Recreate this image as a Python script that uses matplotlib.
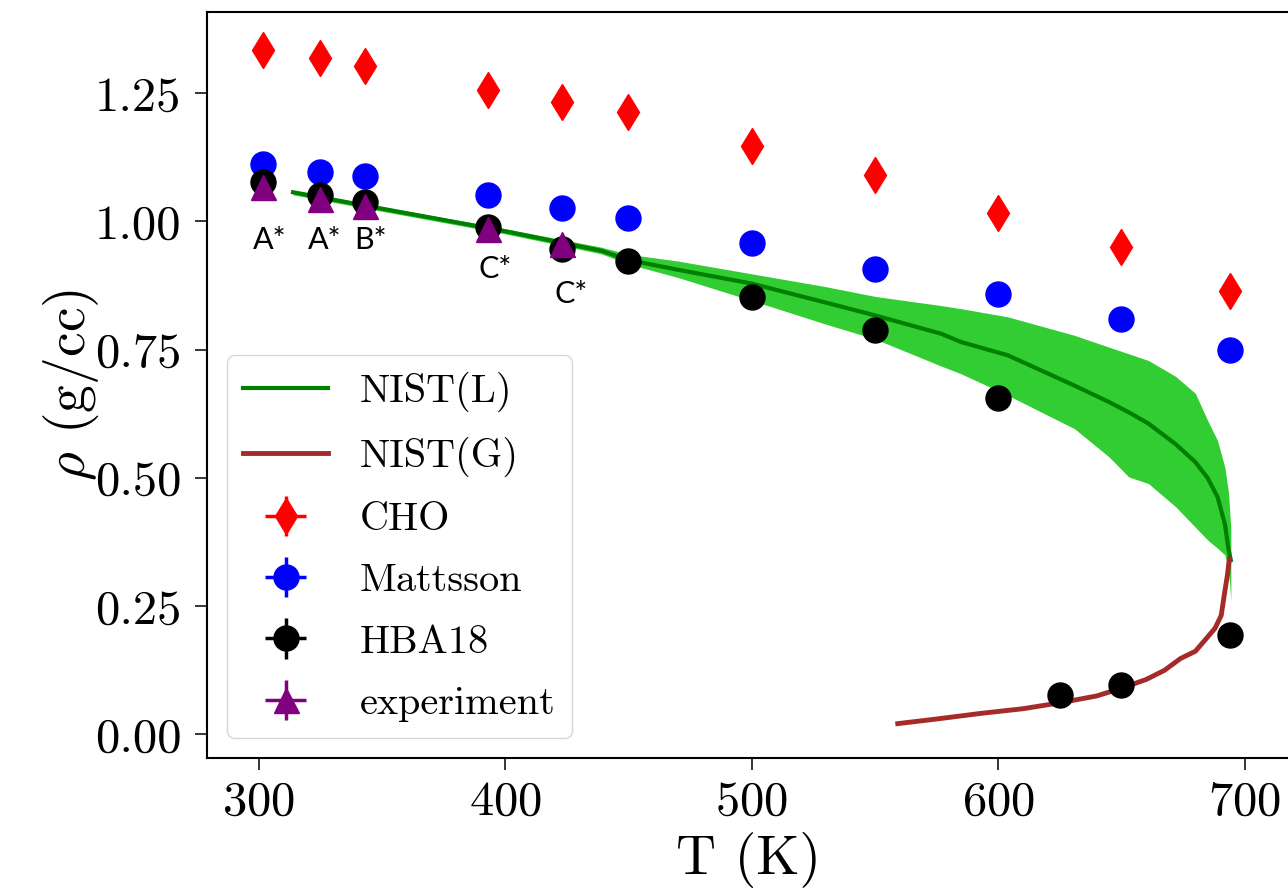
import matplotlib
matplotlib.use("Agg")
import matplotlib.pyplot as plt

plt.rcParams["font.family"] = "serif"
plt.rcParams["font.serif"] = ["cmr10"]
plt.rcParams["mathtext.fontset"] = "cm"
plt.rcParams["axes.formatter.use_mathtext"] = True

# NIST saturated liquid density with uncertainty band
nist_l_T = [314, 350, 400, 439, 450, 470, 500, 530, 550, 577, 585, 604, 631, 645,
            653, 661, 672, 680, 685, 689, 692, 693.5, 694.4]
nist_l_rho = [1.057, 1.025, 0.981, 0.943, 0.925, 0.906, 0.879, 0.842, 0.817, 0.781,
              0.765, 0.739, 0.680, 0.648, 0.628, 0.606, 0.566, 0.531, 0.500, 0.463,
              0.410, 0.360, 0.340]
nist_l_hi = [1.061, 1.029, 0.986, 0.950, 0.936, 0.923, 0.898, 0.873, 0.854, 0.836,
             0.830, 0.814, 0.778, 0.755, 0.742, 0.729, 0.698, 0.665, 0.612, 0.573,
             0.520, 0.470, 0.400]
nist_l_lo = [1.052, 1.020, 0.976, 0.937, 0.917, 0.891, 0.846, 0.800, 0.771, 0.718,
             0.703, 0.661, 0.596, 0.541, 0.502, 0.489, 0.444, 0.404, 0.379, 0.363,
             0.350, 0.320, 0.262]

# NIST saturated vapour density
nist_g_T = [559.3, 575, 593, 610, 625.6, 640, 650, 660, 667.5, 674, 680, 685, 688,
            690.5, 692, 693, 693.8]
nist_g_rho = [0.021, 0.030, 0.041, 0.050, 0.062, 0.075, 0.090, 0.107, 0.125, 0.148,
              0.162, 0.190, 0.207, 0.232, 0.280, 0.310, 0.342]

# Simulation results
cho_T = [302, 325, 343, 393, 423, 450, 500, 550, 600, 650, 694]
cho_rho = [1.335, 1.318, 1.304, 1.257, 1.232, 1.213, 1.148, 1.091, 1.017, 0.951, 0.864]
cho_xerr = [0, 0, 0, 0, 0, 0, 0, 0, 0, 0, 4]
cho_yerr = [0.006, 0.006, 0.006, 0.006, 0.006, 0.006, 0.008, 0.008, 0.010, 0.010, 0.012]

mat_T = [302, 325, 343, 393, 423, 450, 500, 550, 600, 650, 694]
mat_rho = [1.112, 1.096, 1.088, 1.052, 1.027, 1.007, 0.959, 0.908, 0.858, 0.809, 0.749]
mat_xerr = [0, 0, 0, 0, 0, 0, 0, 0, 0, 0, 4]
mat_yerr = [0.005, 0.005, 0.005, 0.005, 0.005, 0.005, 0.006, 0.006, 0.008, 0.008, 0.010]

hba_T = [302, 325, 343, 393, 423, 450, 500, 550, 600, 625, 650, 694]
hba_rho = [1.077, 1.051, 1.038, 0.989, 0.947, 0.923, 0.852, 0.788, 0.655, 0.077,
           0.096, 0.193]
hba_xerr = [0, 0, 0, 0, 0, 0, 0, 0, 0, 0, 0, 3.5]
hba_yerr = [0.005, 0.005, 0.005, 0.005, 0.005, 0.005, 0.006, 0.008, 0.010, 0.006,
            0.006, 0.010]

exp_T = [302, 325, 343, 393, 423]
exp_rho = [1.067, 1.044, 1.030, 0.986, 0.957]
exp_yerr = [0.004, 0.004, 0.004, 0.004, 0.004]
exp_tags = ["A*", "A*", "B*", "C*", "C*"]
exp_tag_T = [304.7, 326.9, 345.6, 396.0, 426.8]
exp_tag_rho = [0.963, 0.963, 0.963, 0.908, 0.858]

x_ticks = [300, 400, 500, 600, 700]
y_ticks = [0.00, 0.25, 0.50, 0.75, 1.00, 1.25]

W, H = 1288, 891
fig = plt.figure(figsize=(W / 100, H / 100), dpi=100)
left, right, top, bottom = 207, 1289.5, 11.7, 758
ax = fig.add_axes([left / W, (H - bottom) / H, (right - left) / W, (bottom - top) / H])

ax.fill_between(nist_l_T, nist_l_lo, nist_l_hi, color="limegreen", lw=0)
ax.plot(nist_l_T, nist_l_rho, color="green", lw=3, label="NIST(L)")
ax.plot(nist_g_T, nist_g_rho, color="brown", lw=3.5, label="NIST(G)")

ms = 18
eb = dict(ls="none", ms=ms, elinewidth=2.5, capsize=0)
ax.errorbar(cho_T, cho_rho, yerr=cho_yerr, xerr=cho_xerr, marker="d", color="red",
            label="CHO", **eb)
ax.errorbar(mat_T, mat_rho, yerr=mat_yerr, xerr=mat_xerr, marker="o", color="blue",
            label="Mattsson", **eb)
ax.errorbar(hba_T, hba_rho, yerr=hba_yerr, xerr=hba_xerr, marker="o", color="black",
            label="HBA18", **eb)
ax.errorbar(exp_T, exp_rho, yerr=exp_yerr, xerr=[0] * len(exp_T), marker="^",
            color="purple", label="experiment", **eb)

for tag, tx, ty in zip(exp_tags, exp_tag_T, exp_tag_rho):
    ax.text(tx, ty, tag, family="Lato", fontsize=22, ha="center", va="center")

ax.set_xlim(279.1, 718.2)
ax.set_ylim(-0.046, 1.409)
ax.set_xticks(x_ticks)
ax.set_yticks(y_ticks)
ax.set_yticklabels([f"{v:.2f}" for v in y_ticks])
ax.tick_params(labelsize=35, length=8.5, width=1.1, direction="out")
ax.tick_params(axis="y", pad=10)
ax.tick_params(axis="x", pad=8)
for s in ax.spines.values():
    s.set_linewidth(1.5)

ax.set_xlabel("T (K)", fontsize=40, labelpad=5)
ax.set_ylabel(r"$\rho$ (g/cc)", fontsize=40)
ax.yaxis.set_label_coords(-0.098, 0.5)

ax.legend(loc="lower left", fontsize=29, borderaxespad=0.5, handlelength=2.1,
          labelspacing=0.62)

fig.savefig("out.png", dpi=100)
